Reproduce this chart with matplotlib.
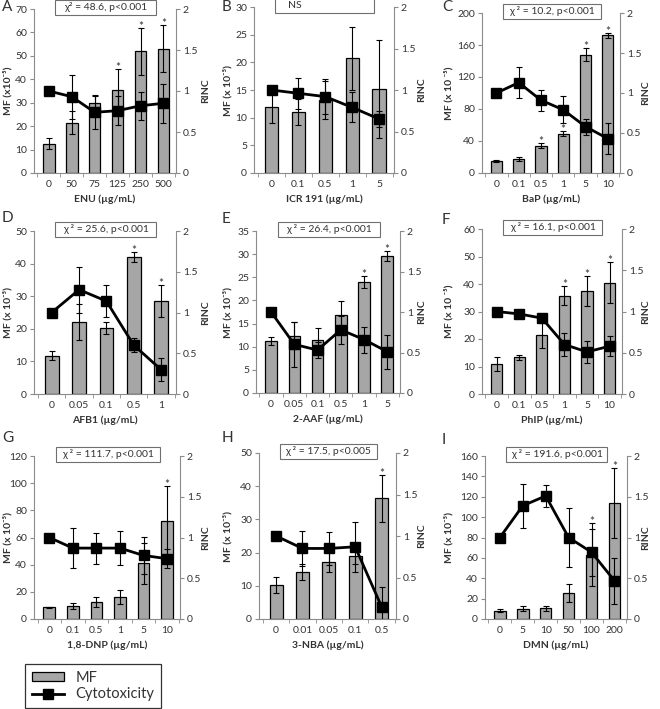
import numpy as np
import matplotlib
matplotlib.use('Agg')
import matplotlib.pyplot as plt
from matplotlib.patches import Rectangle, Patch
from matplotlib.lines import Line2D

plt.rcParams['font.family'] = ['Lato', 'DejaVu Sans']

# ---- data ----
enu_doses = ['0', '50', '75', '125', '250', '500']
enu_mf = [12.5, 21.5, 30, 35.5, 52, 53]
enu_mf_err = [2.3, 5, 3.5, 9, 10, 10]
enu_rinc = [1, 0.93, 0.74, 0.76, 0.82, 0.85]
enu_rinc_err = [0, 0.27, 0.2, 0.18, 0.17, 0.24]
enu_stars = [3, 4, 5]

icr_doses = ['0', '0.1', '0.5', '1', '5']
icr_mf = [12, 11, 13.2, 20.7, 15.2]
icr_mf_err = [3, 2.3, 3.5, 5.7, 8.8]
icr_rinc = [1, 0.96, 0.92, 0.79, 0.65]
icr_rinc_err = [0, 0.19, 0.21, 0.18, 0.1]
icr_stars = []

bap_doses = ['0', '0.1', '0.5', '1', '5', '10']
bap_mf = [15, 17.5, 34, 49, 148, 172]
bap_mf_err = [1, 3, 3, 3, 8, 3.5]
bap_rinc = [1, 1.13, 0.91, 0.79, 0.58, 0.43]
bap_rinc_err = [0, 0.19, 0.13, 0.17, 0.1, 0.19]
bap_stars = [2, 3, 4, 5]

afb_doses = ['0', '0.05', '0.1', '0.5', '1']
afb_mf = [11.8, 22, 20.2, 42, 28.5]
afb_mf_err = [1.5, 5.5, 1.8, 1.5, 5]
afb_rinc = [1, 1.28, 1.14, 0.6, 0.3]
afb_rinc_err = [0, 0.28, 0.2, 0.09, 0.14]
afb_stars = [3, 4]

aaf_doses = ['0', '0.05', '0.1', '0.5', '1', '5']
aaf_mf = [11.2, 12.4, 11.5, 16.8, 24, 29.6]
aaf_mf_err = [0.8, 3, 2.5, 3, 1.3, 1.1]
aaf_rinc = [1, 0.6, 0.53, 0.78, 0.66, 0.51]
aaf_rinc_err = [0, 0.28, 0.1, 0.17, 0.16, 0.21]
aaf_stars = [4, 5]

phip_doses = ['0', '0.1', '0.5', '1', '5', '10']
phip_mf = [11, 13.3, 21.3, 35.8, 37.5, 40.5]
phip_mf_err = [2.5, 1, 4.5, 3.5, 5.5, 7.5]
phip_rinc = [1, 0.97, 0.92, 0.6, 0.51, 0.58]
phip_rinc_err = [0, 0, 0, 0.14, 0.13, 0.12]
phip_stars = [3, 4, 5]

dnp_doses = ['0', '0.1', '0.5', '1', '5', '10']
dnp_mf = [8.5, 9.5, 12.5, 16, 41, 72.5]
dnp_mf_err = [0.5, 2.5, 4, 5, 15, 25.5]
dnp_rinc = [1, 0.87, 0.87, 0.87, 0.78, 0.74]
dnp_rinc_err = [0, 0.25, 0.19, 0.21, 0.23, 0.12]
dnp_stars = [5]

nba_doses = ['0', '0.01', '0.05', '0.1', '0.5']
nba_mf = [10.2, 14.2, 17.2, 19, 36.3]
nba_mf_err = [2.5, 2.5, 3, 2.5, 7.2]
nba_rinc = [1, 0.85, 0.85, 0.87, 0.15]
nba_rinc_err = [0, 0.21, 0.2, 0.3, 0.23]
nba_stars = [4]

dmn_doses = ['0', '5', '10', '50', '100', '200']
dmn_mf = [8, 10, 10.5, 25.5, 63, 114]
dmn_mf_err = [1.5, 2.5, 2.5, 9, 31, 34]
dmn_rinc = [1, 1.39, 1.51, 1.0, 0.82, 0.47]
dmn_rinc_err = [0, 0.27, 0.13, 0.36, 0.29, 0.28]
dmn_stars = [4, 5]

W, H = 660, 709
BAR_COLOR = '#a6a6a6'
AXIS_GRAY = '#8c8c8c'
TEXT_GRAY = '#333333'
# x centre (pixels) of the left / right axis titles in each column
LEFT_TITLE_X = [7, 227, 448]
RIGHT_TITLE_X = [206, 422, 646]

fig = plt.figure(figsize=(W / 100, H / 100), dpi=100)


def draw_panel(box, col, letter_pos, letter, doses, mf, mf_err, rinc,
               rinc_err, stars, mf_max, mf_step, xlabel, ylabel, stat):
    # box = (left, right, top, bottom) in pixels
    l, r, t, b = box
    ax = fig.add_axes([l / W, 1 - b / H, (r - l) / W, (b - t) / H])
    x = np.arange(len(doses))

    ax.bar(x, mf, width=0.5, color=BAR_COLOR, edgecolor='black',
           linewidth=0.9, zorder=2)
    ax.errorbar(x, mf, yerr=mf_err, fmt='none', ecolor='black',
                elinewidth=0.8, capsize=2.5, capthick=0.8, zorder=3)
    for i in stars:
        ax.annotate('*', xy=(i, mf[i] + mf_err[i]), xytext=(0, -1.5),
                    textcoords='offset points', ha='center', va='baseline',
                    fontsize=8.5, color=TEXT_GRAY, zorder=4)

    ax.set_xlim(-0.65, len(doses) - 0.45)
    ax.set_ylim(0, mf_max)
    ax.set_yticks(np.arange(0, mf_max + 0.001, mf_step))
    ax.set_xticks(x)
    ax.set_xticklabels(doses)
    ax.set_xticks(np.arange(-0.5, len(doses)), minor=True)
    ax.tick_params(axis='x', which='major', length=0, labelsize=7.5,
                   labelcolor=TEXT_GRAY, pad=5)
    ax.tick_params(axis='x', which='minor', length=3, color=AXIS_GRAY)
    ax.tick_params(axis='y', direction='out', length=3, color=AXIS_GRAY,
                   labelsize=7.5, labelcolor=TEXT_GRAY, pad=2)
    ax.set_xlabel(xlabel, fontsize=7.5, fontweight='bold', color=TEXT_GRAY,
                  labelpad=4)
    ax.set_ylabel(ylabel, fontsize=7.5, fontweight='bold', color=TEXT_GRAY)
    ax.yaxis.set_label_coords((LEFT_TITLE_X[col] + 5 - l) / (r - l), 0.5)
    for s in ['top', 'right']:
        ax.spines[s].set_visible(False)
    for s in ['left', 'bottom']:
        ax.spines[s].set_color(AXIS_GRAY)

    ax2 = ax.twinx()
    ax2.errorbar(x, rinc, yerr=rinc_err, color='black', linewidth=2,
                 marker='s', markersize=6.5, elinewidth=0.8, capsize=2.5,
                 capthick=0.8, ecolor='black', zorder=5)
    ax2.set_ylim(0, 2)
    ax2.set_yticks([0, 0.5, 1, 1.5, 2])
    ax2.set_yticklabels(['0', '0.5', '1', '1.5', '2'])
    ax2.tick_params(axis='y', direction='out', length=3, color=AXIS_GRAY,
                    labelsize=7.5, labelcolor=TEXT_GRAY, pad=2)
    ax2.set_ylabel('RINC', fontsize=7.5, fontweight='bold', color=TEXT_GRAY)
    ax2.yaxis.set_label_coords((RIGHT_TITLE_X[col] - 5 - l) / (r - l), 0.5)
    for s in ['top', 'left', 'bottom']:
        ax2.spines[s].set_visible(False)
    ax2.spines['right'].set_color(AXIS_GRAY)

    # statistics box at the top of the plot
    ax2.add_patch(Rectangle((0.15, 0.965), 0.71, 0.09, transform=ax2.transAxes,
                            facecolor='white', edgecolor='#6f6f6f',
                            linewidth=0.8, clip_on=False, zorder=10))
    if stat == 'NS':
        ax2.text(0.24, 1.01, stat, transform=ax2.transAxes, ha='left',
                 va='center', fontsize=7.5, color=TEXT_GRAY, zorder=11)
    else:
        ax2.text(0.505, 1.01, stat, transform=ax2.transAxes, ha='center',
                 va='center', fontsize=7.5, color=TEXT_GRAY, zorder=11)

    fig.text(letter_pos[0] / W, 1 - letter_pos[1] / H, letter,
             ha='left', va='top', fontsize=11, color=TEXT_GRAY)
    return ax


draw_panel((34, 176, 9, 173), 0, (2, 0), 'A', enu_doses, enu_mf, enu_mf_err,
           enu_rinc, enu_rinc_err, enu_stars, 70, 10, 'ENU (µg/mL)',
           'MF (x10⁻⁵)', 'χ² = 48.6, p<0.001')
draw_panel((254, 394, 7, 173), 1, (222, 0), 'B', icr_doses, icr_mf,
           icr_mf_err, icr_rinc, icr_rinc_err, icr_stars, 30, 5,
           'ICR 191 (µg/mL)', 'MF (x 10⁻⁵)', 'NS')
draw_panel((482, 620, 13, 173), 2, (442, 0), 'C', bap_doses, bap_mf,
           bap_mf_err, bap_rinc, bap_rinc_err, bap_stars, 200, 40,
           'BaP (µg/mL)', 'MF (x 10 ⁻⁵)', 'χ ² = 10.2, p<0.001')
draw_panel((34, 176, 231, 394), 0, (2, 211), 'D', afb_doses, afb_mf,
           afb_mf_err, afb_rinc, afb_rinc_err, afb_stars, 50, 10,
           'AFB1 (µg/mL)', 'MF (x 10⁻⁵)', 'χ ² = 25.6, p<0.001')
draw_panel((256, 400, 231, 393), 1, (222, 212), 'E', aaf_doses, aaf_mf,
           aaf_mf_err, aaf_rinc, aaf_rinc_err, aaf_stars, 35, 5,
           '2-AAF (µg/mL)', 'MF (x 10⁻⁵)', 'χ ² = 26.4, p<0.001')
draw_panel((482, 622, 229, 394), 2, (442, 213), 'F', phip_doses, phip_mf,
           phip_mf_err, phip_rinc, phip_rinc_err, phip_stars, 60, 10,
           'PhIP (µg/mL)', 'MF (x 10 ⁻⁵)', 'χ ² = 16.1, p<0.001')
draw_panel((34, 180, 456, 619), 0, (2, 431), 'G', dnp_doses, dnp_mf,
           dnp_mf_err, dnp_rinc, dnp_rinc_err, dnp_stars, 120, 20,
           '1,8-DNP (µg/mL)', 'MF (x 10⁻⁵)', 'χ ² = 111.7, p<0.001')
draw_panel((259, 396, 453, 619), 1, (222, 431), 'H', nba_doses, nba_mf,
           nba_mf_err, nba_rinc, nba_rinc_err, nba_stars, 50, 10,
           '3-NBA (µg/mL)', 'MF (x 10⁻⁵)', 'χ ² = 17.5, p<0.005')
draw_panel((485, 627, 456, 619), 2, (442, 433), 'I', dmn_doses, dmn_mf,
           dmn_mf_err, dmn_rinc, dmn_rinc_err, dmn_stars, 160, 20,
           'DMN (µg/mL)', 'MF (x 10⁻⁵)', 'χ ² = 191.6, p<0.001')

handles = [Patch(facecolor=BAR_COLOR, edgecolor='black', linewidth=0.9),
           Line2D([], [], color='black', linewidth=2, marker='s', markersize=6.5)]
leg = fig.legend(handles, ['MF', 'Cytotoxicity'], loc='upper left',
                 bbox_to_anchor=(25 / W, 1 - 664 / H), fontsize=10.5,
                 frameon=True, fancybox=False, edgecolor='black',
                 handlelength=2.2, handleheight=0.55, borderaxespad=0,
                 borderpad=0.45, labelspacing=0.2, handletextpad=0.8)
leg.get_frame().set_linewidth(0.9)
for t in leg.get_texts():
    t.set_color(TEXT_GRAY)

fig.savefig('out.png', dpi=100)
